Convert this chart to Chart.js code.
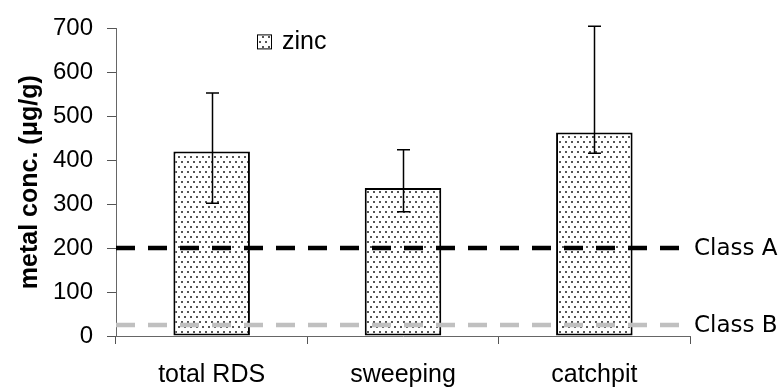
<!DOCTYPE html>
<html>
<head>
<meta charset="utf-8">
<script src="https://cdn.jsdelivr.net/npm/chart.js@4.4.1/dist/chart.umd.min.js"></script>
<style>
  body { margin: 0; background: #fff; }
</style>
</head>
<body>
<canvas id="zincChart" width="783" height="388"></canvas>
<script>
// Chart data
const categories = ['total RDS', 'sweeping', 'catchpit'];
const zincMean = [420, 337, 463];
const zincLow = [302, 283, 416];
const zincHigh = [553, 424, 705];
const classLabels = ['Class A', 'Class B'];
const classValues = [200, 25];
const classColors = ['#000000', '#c0c0c0'];
const yMin = 0;
const yMax = 700;
const yStep = 100;

const sansFont = "'Liberation Sans', Arial, sans-serif";
const classFont = "'DejaVu Sans', Verdana, sans-serif";

// Dotted fill like the old Excel pattern
function makeDotPattern() {
  const tile = document.createElement('canvas');
  tile.width = 6;
  tile.height = 10;
  const tctx = tile.getContext('2d');
  tctx.fillStyle = '#ffffff';
  tctx.fillRect(0, 0, 6, 10);
  tctx.fillStyle = '#555555';
  tctx.fillRect(1, 1, 2, 2);
  tctx.fillRect(4, 6, 2, 2);
  return document.getElementById('zincChart').getContext('2d').createPattern(tile, 'repeat');
}

const dotPattern = makeDotPattern();

// Draws class limit lines, error bars and the little legend
const overlayPlugin = {
  id: 'overlay',
  afterDatasetsDraw(chart) {
    const ctx = chart.ctx;
    const area = chart.chartArea;
    const yScale = chart.scales.y;

    ctx.save();

    // class lines
    ctx.setLineDash([19, 13]);
    ctx.lineWidth = 4.5;
    classValues.forEach((v, i) => {
      const py = yScale.getPixelForValue(v);
      ctx.strokeStyle = classColors[i];
      ctx.beginPath();
      ctx.moveTo(area.left, py);
      ctx.lineTo(area.right - 4, py);
      ctx.stroke();
      ctx.fillStyle = '#000';
      ctx.font = '23px ' + classFont;
      ctx.textAlign = 'left';
      ctx.textBaseline = 'middle';
      ctx.fillText(classLabels[i], area.right + 4, py + 1);
    });

    // error bars
    ctx.setLineDash([]);
    ctx.lineWidth = 1.5;
    ctx.strokeStyle = '#000';
    const meta = chart.getDatasetMeta(0);
    meta.data.forEach((bar, i) => {
      const x = Math.round(bar.x) + 0.5;
      const yl = yScale.getPixelForValue(zincLow[i]);
      const yh = yScale.getPixelForValue(zincHigh[i]);
      ctx.beginPath();
      ctx.moveTo(x, yl);
      ctx.lineTo(x, yh);
      ctx.moveTo(x - 6.5, yl);
      ctx.lineTo(x + 6.5, yl);
      ctx.moveTo(x - 6.5, yh);
      ctx.lineTo(x + 6.5, yh);
      ctx.stroke();
    });

    // legend
    const ds = chart.data.datasets[0];
    const lx = area.left + 141;
    const ly = area.top + 6;
    ctx.fillStyle = ds.backgroundColor;
    ctx.fillRect(lx, ly, 15, 15);
    ctx.lineWidth = 1;
    ctx.strokeStyle = '#000';
    ctx.strokeRect(lx + 0.5, ly + 0.5, 14, 14);
    ctx.fillStyle = '#000';
    ctx.font = '25px ' + sansFont;
    ctx.textAlign = 'left';
    ctx.textBaseline = 'middle';
    ctx.fillText(ds.label, lx + 25, ly + 8);

    ctx.restore();
  }
};

const ctx = document.getElementById('zincChart').getContext('2d');
const zincChart = new Chart(ctx, {
  type: 'bar',
  data: {
    labels: categories,
    datasets: [
      {
        label: 'zinc',
        data: zincMean,
        backgroundColor: dotPattern,
        borderColor: '#000',
        borderWidth: 2,
        borderSkipped: false,
        categoryPercentage: 1.0,
        barPercentage: 0.4
      }
    ]
  },
  options: {
    responsive: false,
    animation: false,
    layout: {
      padding: { left: 0, top: 26, right: 93, bottom: 0 }
    },
    scales: {
      x: {
        offset: true,
        grid: {
          offset: true,
          drawOnChartArea: false,
          tickLength: 8,
          color: '#555'
        },
        border: { color: '#666' },
        ticks: {
          padding: 16,
          color: '#000',
          font: { family: sansFont, size: 25 }
        },
        afterFit(scale) {
          scale.height = 52;
        }
      },
      y: {
        min: yMin,
        max: yMax,
        grid: {
          drawOnChartArea: false,
          tickLength: 9,
          color: '#555'
        },
        border: { color: '#666' },
        ticks: {
          stepSize: yStep,
          padding: 14,
          color: '#000',
          font: { family: sansFont, size: 24 }
        },
        title: {
          display: true,
          text: 'metal conc. (μg/g)',
          color: '#000',
          font: { family: sansFont, size: 25, weight: 'bold' },
          padding: { top: 15, bottom: 0 }
        },
        afterFit(scale) {
          scale.width = 116;
        }
      }
    },
    plugins: {
      legend: { display: false },
      tooltip: { enabled: false }
    }
  },
  plugins: [overlayPlugin]
});
</script>
</body>
</html>
